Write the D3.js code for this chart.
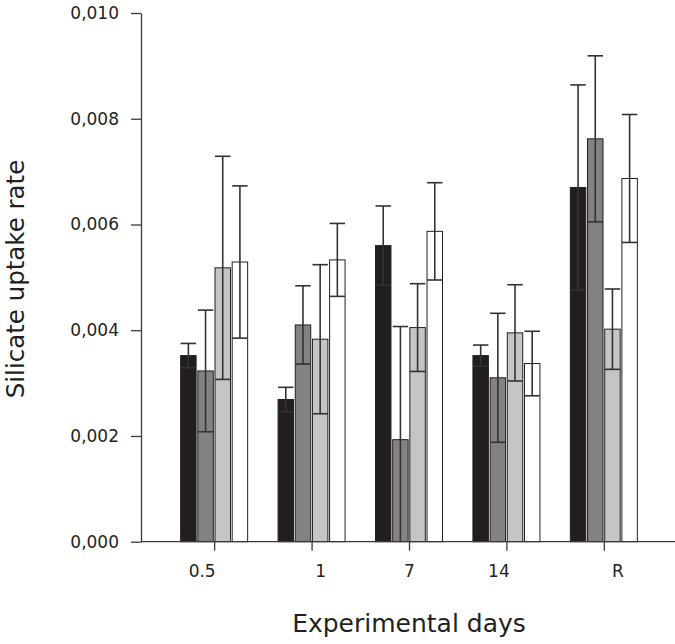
<!DOCTYPE html>
<html>
<head>
<meta charset="utf-8">
<script src="https://cdn.jsdelivr.net/npm/d3@7"></script>
<style>
  html, body { margin: 0; padding: 0; background: #fff; }
  svg { display: block; }
  text { font-family: "DejaVu Sans", Verdana, sans-serif; fill: #231f20; }
</style>
</head>
<body>
<svg id="chart" width="675" height="644"></svg>
<script>
// ---- data ----
const categories = ["0.5", "1", "7", "14", "R"];
const seriesNames = ["S1", "S2", "S3", "S4"];
const meanS1 = [0.00352, 0.00269, 0.00560, 0.00352, 0.00670];
const meanS2 = [0.00323, 0.00410, 0.00193, 0.00310, 0.00762];
const meanS3 = [0.00518, 0.00383, 0.00405, 0.00395, 0.00402];
const meanS4 = [0.00529, 0.00533, 0.00587, 0.00337, 0.00687];
const errS1 = [0.00023, 0.00023, 0.00075, 0.00020, 0.00194];
const errS2 = [0.00115, 0.00074, 0.00214, 0.00122, 0.00157];
const errS3 = [0.00211, 0.00141, 0.00083, 0.00091, 0.00076];
const errS4 = [0.00144, 0.00069, 0.00092, 0.00061, 0.00121];
const yTicks = [0, 0.002, 0.004, 0.006, 0.008, 0.010];
const yTitle = "Silicate uptake rate";
const xTitle = "Experimental days";

// ---- styling ----
const fills = ["#221e1f", "#828285", "#c5c5c7", "#ffffff"];
const labelNudge = [-12.5, 8.6, 0, -8, 13.5];
const means = [meanS1, meanS2, meanS3, meanS4];
const errs = [errS1, errS2, errS3, errS4];

const rows = [];
categories.forEach((c, ci) => {
  seriesNames.forEach((s, si) => {
    rows.push({ cat: c, ci, series: s, si, v: means[si][ci], e: errs[si][ci] });
  });
});

const svg = d3.select("#chart");
const axisColor = "#3a3a3a";

const y = d3.scaleLinear().domain([0, 0.010]).range([541.7, 13]);
const x = d3.scalePoint().domain(categories).range([144, 674]).padding(0.72);
const xInner = d3.scaleBand().domain(seriesNames).range([-33.5, 33.5]).paddingInner(0.1);

// bars
svg.append("g").selectAll("rect").data(rows).join("rect")
  .attr("x", d => x(d.cat) + xInner(d.series))
  .attr("y", d => y(d.v))
  .attr("width", xInner.bandwidth())
  .attr("height", d => y(0) - y(d.v))
  .attr("fill", d => fills[d.si])
  .attr("stroke", "#231f20")
  .attr("stroke-width", 1);

// error bars
const eg = svg.append("g").attr("stroke", "#333").attr("stroke-width", 1.6).attr("fill", "none");
rows.forEach(d => {
  const cx = x(d.cat) + xInner(d.series) + xInner.bandwidth() / 2;
  const hi = d.v + d.e;
  const lo = Math.max(0, d.v - d.e);
  const hw = xInner.bandwidth() / 2;
  eg.append("line").attr("x1", cx).attr("x2", cx).attr("y1", y(hi)).attr("y2", y(lo));
  eg.append("line").attr("x1", cx - hw).attr("x2", cx + hw).attr("y1", y(hi)).attr("y2", y(hi));
  if (d.v - d.e > 0) {
    eg.append("line").attr("x1", cx - hw).attr("x2", cx + hw).attr("y1", y(lo)).attr("y2", y(lo));
  }
});

// y axis
const fmt = v => d3.format(".3f")(v).replace(".", ",");
const yAxis = svg.append("g").attr("transform", "translate(141,0)")
  .call(d3.axisLeft(y).tickValues(yTicks).tickFormat(fmt).tickSize(10).tickPadding(12).tickSizeOuter(0));
yAxis.select(".domain").attr("stroke", axisColor).attr("stroke-width", 1.3);
yAxis.selectAll(".tick line").attr("stroke", axisColor).attr("stroke-width", 1.3);
yAxis.selectAll(".tick text").attr("font-size", "17px")
  .attr("font-family", "'DejaVu Sans', Verdana, sans-serif").attr("fill", "#231f20");

// x axis
const xAxis = svg.append("g").attr("transform", `translate(0,${y(0)})`)
  .call(d3.axisBottom(x).tickSize(9).tickPadding(14).tickSizeOuter(0));
xAxis.select(".domain").remove();
xAxis.append("line").attr("x1", 141).attr("x2", 675).attr("y1", 0).attr("y2", 0)
  .attr("stroke", axisColor).attr("stroke-width", 1.3);
xAxis.selectAll(".tick line").attr("stroke", axisColor).attr("stroke-width", 1.3);
xAxis.selectAll(".tick text").attr("font-size", "17px")
  .attr("font-family", "'DejaVu Sans', Verdana, sans-serif").attr("fill", "#231f20")
  .attr("dx", (d, i) => labelNudge[i]);

// titles
svg.append("text")
  .attr("transform", "translate(23.5,279) rotate(-90)")
  .attr("text-anchor", "middle")
  .attr("font-size", "24.5px")
  .text(yTitle);

svg.append("text")
  .attr("x", 409).attr("y", 631.5)
  .attr("text-anchor", "middle")
  .attr("font-size", "25px")
  .text(xTitle);
</script>
</body>
</html>
